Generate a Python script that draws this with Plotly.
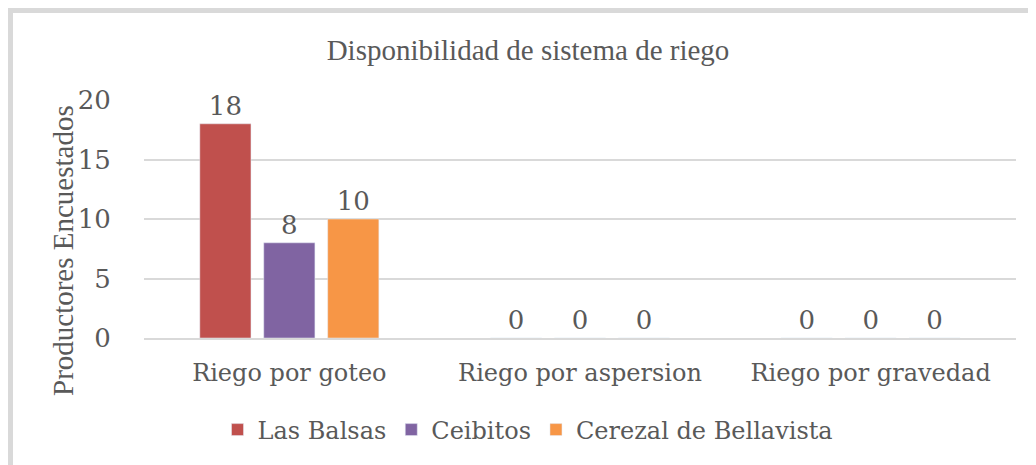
import plotly.graph_objects as go

categories = ["Riego por goteo", "Riego por aspersion", "Riego por gravedad"]
series_names = ["Las Balsas", "Ceibitos", "Cerezal de Bellavista"]
las_balsas = [18, 0, 0]
ceibitos = [8, 0, 0]
cerezal = [10, 0, 0]
colors = ["#C0504D", "#8064A2", "#F79646"]
y_ticks = [0, 5, 10, 15, 20]
chart_title = "Disponibilidad de sistema de riego"
y_title = "Productores Encuestados"

TITLE_FONT = "Liberation Serif"
LABEL_FONT = "DejaVu Serif"
TXT = "#595959"
FS = 29
LFS = 24

# page body has an 8px margin; work in reference pixel coords and subtract it
OFF = 8
W, H = 1036 - OFF, 465 - OFF

fig = go.Figure()
for name, vals, col in zip(series_names, [las_balsas, ceibitos, cerezal], colors):
    fig.add_trace(go.Bar(
        x=categories, y=vals, name=name, marker_color=col,
        text=[str(v) for v in vals], textposition="outside",
        textfont=dict(family=LABEL_FONT, size=26, color=TXT),
        cliponaxis=False,
    ))

ml = 144 - OFF
mr = 1036 - 1016
mt = 100 - OFF
mb = 465 - 338
pw, ph = W - ml - mr, H - mt - mb

def px_x(px):
    return (px - OFF - ml) / pw

def px_y(py):
    return (H - mb - (py - OFF)) / ph

fig.update_layout(
    width=W, height=H,
    margin=dict(l=ml, r=mr, t=mt, b=mb, autoexpand=False),
    paper_bgcolor="white", plot_bgcolor="white",
    font=dict(family=LABEL_FONT, size=LFS, color=TXT),
    barmode="group", bargap=0.34, bargroupgap=0.2,
    title=dict(text=chart_title, x=(528 - OFF) / W, xref="container",
               xanchor="center", y=1 - (50 - OFF) / H, yref="container", yanchor="middle",
               font=dict(family=TITLE_FONT, size=FS, color=TXT)),
    showlegend=True,
    legend=dict(orientation="h", xref="container", x=(528 - OFF) / W, xanchor="center",
                yref="container", y=1 - (430 - OFF) / H, yanchor="middle",
                font=dict(family=LABEL_FONT, size=LFS, color=TXT), itemwidth=30,
                traceorder="normal"),
)
fig.update_yaxes(range=[0, 20], tickvals=y_ticks, showgrid=True, gridcolor="#D9D9D9",
                 gridwidth=1.5, zeroline=False, showline=False,
                 ticks="outside", ticklen=0, ticklabelstandoff=27,
                 tickfont=dict(family=LABEL_FONT, size=26, color=TXT))
fig.update_xaxes(showline=True, linecolor="#D9D9D9", linewidth=1.5, showgrid=False,
                 ticks="outside", ticklen=0, ticklabelstandoff=12, tickangle=0,
                 tickfont=dict(family=LABEL_FONT, size=LFS, color=TXT))

# y-axis title (placed like the reference, slightly below the plot centre)
fig.add_annotation(text=y_title, textangle=-90, xref="paper", yref="paper",
                   x=px_x(63), y=px_y(251), xanchor="center", yanchor="middle",
                   showarrow=False, font=dict(family=TITLE_FONT, size=FS, color=TXT))

fig.add_shape(type="rect", xref="paper", yref="paper",
              x0=px_x(9.5), x1=px_x(1036 + 20), y0=px_y(465 + 20), y1=px_y(9.5),
              line=dict(color="#D9D9D9", width=7), fillcolor="rgba(0,0,0,0)", layer="below")

fig.write_html("out.html")
